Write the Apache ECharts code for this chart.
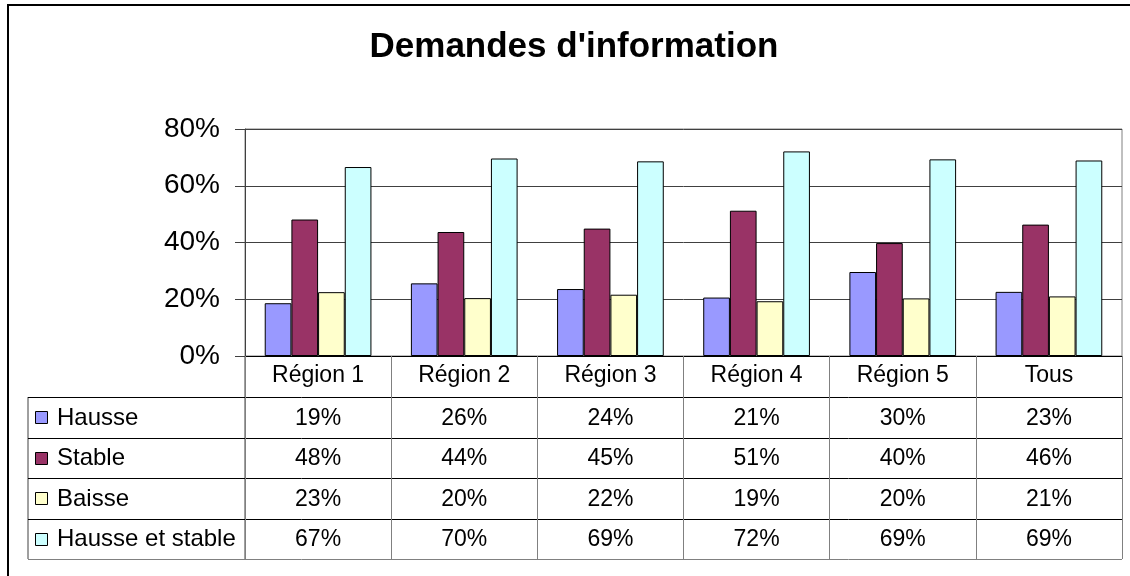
<!DOCTYPE html>
<html>
<head>
<meta charset="utf-8">
<script src="https://cdn.jsdelivr.net/npm/echarts@6/dist/echarts.min.js"></script>
<style>
html, body { margin: 0; padding: 0; background: #fff; overflow: hidden; }
#chart { width: 1130px; height: 576px; }
</style>
</head>
<body>
<div id="chart"></div>
<script>
// data (table shows rounded values)
const categories = ['Région 1', 'Région 2', 'Région 3', 'Région 4', 'Région 5', 'Tous'];
const seriesNames = ['Hausse', 'Stable', 'Baisse', 'Hausse et stable'];
const hausse = [18.6, 25.6, 23.6, 20.6, 29.6, 22.6];
const stable = [48.1, 43.7, 44.9, 51.2, 39.8, 46.3];
const baisse = [22.5, 20.4, 21.6, 19.3, 20.3, 21.0];
const hausseEtStable = [66.6, 69.6, 68.6, 72.1, 69.3, 68.9];
const yTicks = [0, 20, 40, 60, 80];

const colors = ['#9999FF', '#993366', '#FFFFCC', '#CCFFFF'];
const font = "'Liberation Sans', Arial, sans-serif";
const seriesData = [hausse, stable, baisse, hausseEtStable];

let chart = echarts.init(document.getElementById('chart'));

let option = {
  animation: false,
  color: colors,
  textStyle: { fontFamily: font },
  title: {
    text: "Demandes d'information",
    left: 569,
    top: 25,
    textAlign: 'center',
    textStyle: { fontSize: 35, fontWeight: 'bold', color: '#000', fontFamily: font }
  },
  grid: {
    left: 245,
    top: 129,
    width: 877,
    height: 227,
    show: true,
    borderColor: '#808080',
    borderWidth: 1
  },
  xAxis: {
    type: 'category',
    data: categories,
    axisLine: { lineStyle: { color: '#000' } },
    axisTick: { show: true, interval: 0, length: 203, lineStyle: { color: '#808080' } },
    axisLabel: { interval: 0, fontSize: 23, color: '#000', margin: 8, fontFamily: font },
    splitLine: { show: false }
  },
  yAxis: {
    type: 'value',
    min: yTicks[0],
    max: yTicks[yTicks.length - 1],
    interval: yTicks[1] - yTicks[0],
    axisLine: { show: true, lineStyle: { color: '#404040' } },
    axisTick: { show: true, length: 10, lineStyle: { color: '#404040' } },
    axisLabel: { formatter: '{value}%', fontSize: 28, color: '#000', margin: 25, fontFamily: font },
    splitLine: { lineStyle: { color: '#404040' } }
  },
  series: seriesNames.map(function (name, i) {
    return {
      name: name,
      type: 'bar',
      data: seriesData[i],
      barGap: '0%',
      barCategoryGap: '27%',
      itemStyle: { color: colors[i], borderColor: '#000', borderWidth: 1 }
    };
  })
};
chart.setOption(option);

// data table below the plot
let graphic = [];
let tableLeft = 28, tableRight = 1122, headerBottom = 397, rowH = 40.5;
let axisY = chart.convertToPixel({ yAxisIndex: 0 }, 0);

// outer chart border (right and bottom sides fall outside the picture)
graphic.push({
  type: 'polyline', silent: true,
  shape: { points: [[8, 700], [8, 5], [1200, 5]] },
  style: { fill: 'none', stroke: '#000', lineWidth: 2 }
});

// left borders of the table
graphic.push({
  type: 'line', silent: true,
  shape: { x1: 245, y1: axisY, x2: 245, y2: headerBottom + rowH * 4 },
  style: { stroke: '#404040', lineWidth: 1 }
});
graphic.push({
  type: 'line', silent: true,
  shape: { x1: tableLeft, y1: headerBottom, x2: tableLeft, y2: headerBottom + rowH * 4 },
  style: { stroke: '#404040', lineWidth: 1 }
});

for (let r = 0; r <= 4; r++) {
  let y = Math.round(headerBottom + rowH * r) + 0.5;
  graphic.push({
    type: 'line', silent: true,
    shape: { x1: tableLeft, y1: y, x2: tableRight, y2: y },
    style: { stroke: r === 4 ? '#808080' : '#000', lineWidth: 1 }
  });
}

seriesNames.forEach(function (name, r) {
  let cy = headerBottom + rowH * r + rowH / 2;
  graphic.push({
    type: 'rect', silent: true,
    shape: { x: 35.5, y: Math.round(cy - 6) + 0.5, width: 12, height: 12 },
    style: { fill: colors[r], stroke: '#000', lineWidth: 1 }
  });
  graphic.push({
    type: 'text', silent: true,
    x: 57, y: cy + 1,
    style: { text: name, font: '24px ' + font, fill: '#000', verticalAlign: 'middle', align: 'left' }
  });
  categories.forEach(function (cat, c) {
    let cx = chart.convertToPixel({ xAxisIndex: 0 }, cat);
    graphic.push({
      type: 'text', silent: true,
      x: cx, y: cy + 1,
      style: { text: Math.round(seriesData[r][c]) + '%', font: '23px ' + font, fill: '#000', verticalAlign: 'middle', align: 'center' }
    });
  });
});

chart.setOption({ graphic: graphic });
</script>
</body>
</html>
